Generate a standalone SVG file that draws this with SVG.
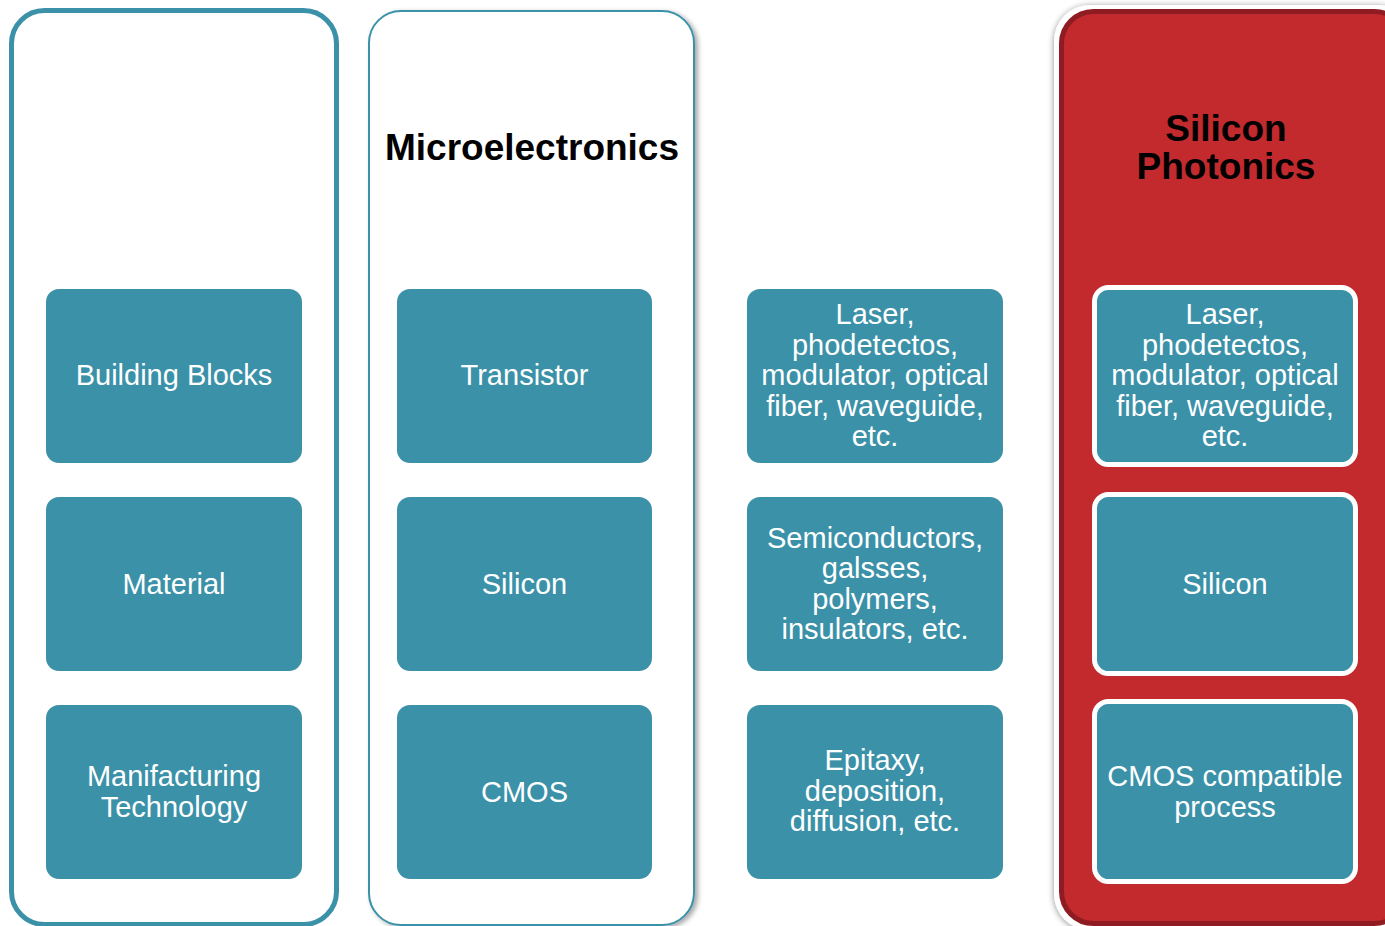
<svg xmlns="http://www.w3.org/2000/svg" width="1385" height="926" viewBox="0 0 1385 926">
<defs>
<filter id="sh" x="-10%" y="-10%" width="130%" height="130%">
<feDropShadow dx="3" dy="2" stdDeviation="2.5" flood-color="#000" flood-opacity="0.35"/>
</filter>
<filter id="sh2" x="-10%" y="-10%" width="130%" height="130%">
<feDropShadow dx="0" dy="1" stdDeviation="3" flood-color="#000" flood-opacity="0.45"/>
</filter>
</defs>
<style>
.box{fill:#3B91A8;}
.wbox{fill:#3B91A8;stroke:#fff;stroke-width:5;}
.t{font-family:"Liberation Sans",Arial,sans-serif;font-size:29px;fill:#fff;text-anchor:middle;}
.h{font-family:"Liberation Sans",Arial,sans-serif;font-size:37px;font-weight:bold;fill:#000;text-anchor:middle;}
</style>
<rect width="1385" height="926" fill="#fff"/>
<g id="col-labels">
<rect x="11.5" y="10.5" width="325" height="914" rx="33" fill="#fff" stroke="#3B91A8" stroke-width="5"/>
</g>
<g id="col-micro">
<rect x="369" y="11" width="325" height="914" rx="32" fill="#fff" stroke="#3B91A8" stroke-width="2" filter="url(#sh)"/>
<text class="h" x="532" y="160">Microelectronics</text>
</g>
<g id="col-photonics">
<g filter="url(#sh2)">
<rect x="1054" y="5" width="360" height="925" rx="36" fill="#fff"/>
<rect x="1061.5" y="11.5" width="345" height="912" rx="32" fill="#C22B2E" stroke="#8E1E20" stroke-width="5"/>
</g>
<text class="h" x="1226" y="141">Silicon</text>
<text class="h" x="1226" y="179">Photonics</text>
</g>
<g id="n-building-blocks"><rect class="box" x="46" y="289" width="256" height="174" rx="13"/><text class="t" x="174" y="385">Building Blocks</text></g>
<g id="n-material"><rect class="box" x="46" y="497" width="256" height="174" rx="13"/><text class="t" x="174" y="593.5">Material</text></g>
<g id="n-manufacturing"><rect class="box" x="46" y="705" width="256" height="174" rx="13"/><text class="t" x="174" y="786">Manifacturing</text><text class="t" x="174" y="816.5">Technology</text></g>
<g id="n-transistor"><rect class="box" x="397" y="289" width="255" height="174" rx="13"/><text class="t" x="524.5" y="385">Transistor</text></g>
<g id="n-silicon-micro"><rect class="box" x="397" y="497" width="255" height="174" rx="13"/><text class="t" x="524.5" y="593.5">Silicon</text></g>
<g id="n-cmos"><rect class="box" x="397" y="705" width="255" height="174" rx="13"/><text class="t" x="524.5" y="801.5">CMOS</text></g>
<g id="n-laser-mid"><rect class="box" x="747" y="289" width="256" height="174" rx="13"/>
<text class="t" x="875" y="324">Laser,</text><text class="t" x="875" y="354.5">phodetectos,</text><text class="t" x="875" y="385">modulator, optical</text><text class="t" x="875" y="415.5">fiber, waveguide,</text><text class="t" x="875" y="446">etc.</text></g>
<g id="n-semis"><rect class="box" x="747" y="497" width="256" height="174" rx="13"/>
<text class="t" x="875" y="547.5">Semiconductors,</text><text class="t" x="875" y="578">galsses,</text><text class="t" x="875" y="608.5">polymers,</text><text class="t" x="875" y="639">insulators, etc.</text></g>
<g id="n-epitaxy"><rect class="box" x="747" y="705" width="256" height="174" rx="13"/>
<text class="t" x="875" y="770">Epitaxy,</text><text class="t" x="875" y="800.5">deposition,</text><text class="t" x="875" y="831">diffusion, etc.</text></g>
<g id="n-laser-ph"><rect class="wbox" x="1094.5" y="287.5" width="261" height="177" rx="14"/>
<text class="t" x="1225" y="324">Laser,</text><text class="t" x="1225" y="354.5">phodetectos,</text><text class="t" x="1225" y="385">modulator, optical</text><text class="t" x="1225" y="415.5">fiber, waveguide,</text><text class="t" x="1225" y="446">etc.</text></g>
<g id="n-silicon-ph"><rect class="wbox" x="1094.5" y="494.5" width="261" height="179" rx="14"/><text class="t" x="1225" y="593.5">Silicon</text></g>
<g id="n-cmos-ph"><rect class="wbox" x="1094.5" y="701.5" width="261" height="180" rx="14"/><text class="t" x="1225" y="786">CMOS compatible</text><text class="t" x="1225" y="816.5">process</text></g>
<g id="connectors"/>
</svg>
